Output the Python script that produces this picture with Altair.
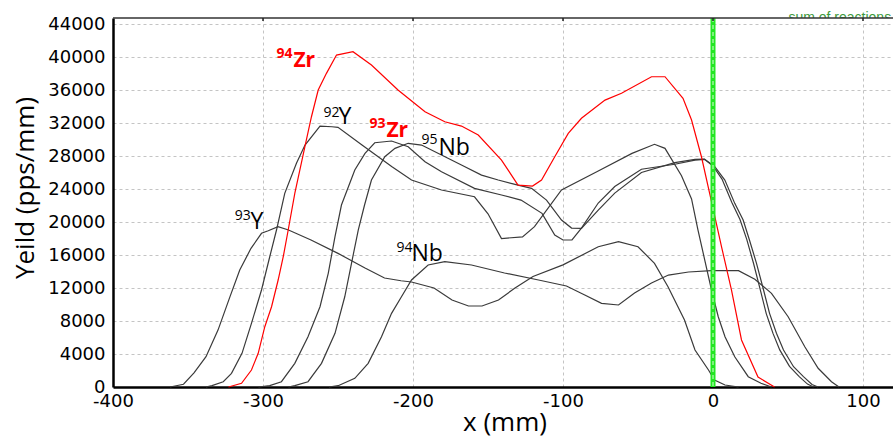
import altair as alt
import pandas as pd

# ---------------- data ----------------
X_TICKS = [-400, -300, -200, -100, 0, 100]
Y_TICKS = list(range(0, 44001, 4000))

X_93Y = [-362, -353, -346, -338, -330, -322, -315.5, -308, -301, -296.5, -290, -283, -268, -250, -232, -219, -208, -201, -186, -174, -163, -154, -143, -132, -120, -100, -76.5, -63, -50, -39, -30, -19, -12, -3, 1, 8, 17]
Y_93Y = [0, 330, 1700, 3670, 6900, 10950, 14180, 16810, 18630, 18940, 19430, 19030, 17820, 16200, 14420, 13210, 12880, 12730, 12000, 10540, 9820, 9820, 10540, 12000, 13400, 14800, 17000, 17610, 17000, 14990, 12160, 8120, 4480, 2060, 850, 240, 0]

X_92Y = [-338, -334, -326.5, -321, -314, -307.7, -301, -295.5, -291, -285.5, -277.7, -272, -262, -254, -250, -234, -214, -201, -181, -159, -150, -141, -127, -119, -101, -76.5, -54, -39, -32, -21, -14.3, -10, -5.5, -1, 3.5, 8, 14.5, 23.5, 32, 39]
Y_92Y = [0, 160, 640, 1660, 4080, 7720, 11760, 15790, 19030, 23480, 27110, 29330, 31630, 31550, 31480, 29330, 26700, 25090, 23880, 23060, 21000, 18000, 18200, 19430, 23880, 26180, 28320, 29420, 28930, 25600, 22800, 19030, 15390, 11760, 8520, 6100, 3670, 1250, 450, 0]

X_94Zr = [-323, -314.3, -307.7, -303.2, -298.8, -294.3, -289.9, -286.5, -283.2, -278.8, -272.1, -267.7, -263.2, -257.7, -251, -240, -227.7, -210, -192, -178.8, -167.7, -156.5, -141, -130, -120.3, -114.3, -105.5, -96.5, -87.7, -72, -61, -41, -32, -20, -14.3, -7.7, -1, 5.7, 12.3, 19, 30, 41]
Y_94Zr = [0, 450, 2060, 4080, 7310, 9730, 12970, 15790, 19030, 23480, 29120, 32760, 36000, 38020, 40240, 40640, 39030, 36000, 33370, 32150, 31630, 30540, 27510, 24480, 24360, 25090, 27910, 30750, 32570, 34780, 35600, 37610, 37610, 34990, 32360, 27910, 22460, 17000, 11760, 5700, 1210, 0]

X_93Zr = [-303, -295.5, -287.7, -278.8, -270, -262, -256.5, -252, -247.7, -238.8, -232, -225.5, -214.3, -203.2, -192, -181, -159, -141, -128, -114, -105.5, -100, -94, -87.7, -76.5, -65.5, -47.7, -25.5, -12, -5.7, 0, 6, 12.5, 18, 22.5, 27, 31.5, 35.5, 40, 44.5, 51, 57.5, 63, 67]
Y_93Zr = [0, 160, 640, 2870, 6100, 9730, 13780, 18220, 22060, 26300, 28320, 29610, 29820, 29120, 27310, 26090, 24080, 23270, 22660, 21050, 18420, 17820, 17820, 19270, 22300, 24300, 26400, 27000, 27500, 27600, 26800, 25200, 22400, 20300, 17900, 15000, 11800, 8900, 6500, 4500, 2500, 1250, 350, 0]

X_95Nb = [-283, -278.8, -270, -261, -252, -245.5, -241, -236.5, -232.3, -227.7, -218.8, -212, -203.2, -194.3, -181, -167.7, -154.3, -143.2, -130, -121, -111, -101, -94.3, -87.7, -76.5, -65.5, -47.7, -25.5, -12, -5.7, 1.2, 7.9, 14.5, 20.1, 24.3, 29, 33.7, 37.7, 42.3, 47, 53.7, 60.3, 66, 70]
Y_95Nb = [0, 160, 640, 2870, 6510, 10940, 14990, 19030, 22060, 25090, 27910, 28930, 29540, 29330, 28120, 26910, 25690, 25090, 24480, 24080, 22660, 20240, 19270, 19230, 21450, 23500, 26000, 27190, 27600, 27630, 26700, 25090, 22260, 20240, 17820, 14990, 11760, 8930, 6510, 4480, 2460, 1250, 300, 0]

X_94Nb = [-256, -249.9, -238.8, -229.9, -221, -214.3, -207.7, -201, -189.9, -178.8, -161, -139, -116.3, -97.7, -85.5, -74.3, -63, -52.3, -41, -29.7, -16.3, -1, 17, 27.9, 39, 50.1, 61.2, 70.1, 79, 84]
Y_94Nb = [0, 160, 1050, 2870, 6100, 8930, 10940, 12970, 14790, 15190, 14790, 13820, 12970, 12240, 11150, 10140, 9940, 11390, 12600, 13570, 13940, 14100, 14100, 13050, 11360, 8520, 4880, 2270, 640, 0]

SERIES = {
    "93Y": (X_93Y, Y_93Y),
    "92Y": (X_92Y, Y_92Y),
    "93Zr": (X_93Zr, Y_93Zr),
    "95Nb": (X_95Nb, Y_95Nb),
    "94Nb": (X_94Nb, Y_94Nb),
    "94Zr": (X_94Zr, Y_94Zr),
}
SERIES_COLORS = ["#3a3a3a", "#3a3a3a", "#3a3a3a", "#3a3a3a", "#3a3a3a", "#ff0000"]
SERIES_WIDTHS = [1.2, 1.2, 1.2, 1.2, 1.2, 1.6]

# labels: mass number (superscript) and element, anchors in data units
LBL_MASS = ["94", "92", "93", "95", "93", "94"]
LBL_ELEM = ["Zr", "Y", "Zr", "Nb", "Y", "Nb"]
LBL_RED = [True, False, True, False, False, False]
LBL_SUP_X = [-291, -259.7, -229, -194.3, -318.9, -211]
LBL_SUP_Y = [39900, 32720, 31390, 29450, 20240, 16360]
LBL_EL_X = [-279.7, -249.7, -217.7, -183, -308.3, -201]
LBL_EL_Y = [38780, 31870, 30300, 28120, 19150, 15270]

X_DOMAIN = [-400, 120]
Y_DOMAIN = [0, 44730]

# ---------------- build tables ----------------
rows = []
for name, (xv, yv) in SERIES.items():
    df = pd.DataFrame({"x": xv, "y": yv})
    df["series"] = name
    df["i"] = range(len(df))
    rows.append(df)
lines_df = pd.concat(rows, ignore_index=True)

sup_df = pd.DataFrame({"text": LBL_MASS, "x": LBL_SUP_X, "y": LBL_SUP_Y, "red": LBL_RED})
el_df = pd.DataFrame({"text": LBL_ELEM, "x": LBL_EL_X, "y": LBL_EL_Y, "red": LBL_RED})

xs = alt.Scale(domain=X_DOMAIN, nice=False, zero=False)
ys = alt.Scale(domain=Y_DOMAIN, nice=False, zero=False)

x_axis = alt.Axis(
    values=X_TICKS, title="x (mm)", labelExpr="datum.value + ''",
    titleFont="Open Sans", titleFontSize=26, titleFontWeight="normal", titleColor="black",
    titleX=391.5, titleY=43, titleBaseline="alphabetic", titleAlign="center",
    labelFont="DejaVu Sans", labelFontSize=18, labelColor="black", labelPadding=5,
    ticks=False, domainColor="black", domainWidth=2.5,
    grid=True, gridDash=[3, 3], gridColor="#c4c4c4", gridWidth=1,
    labelFlush=False, labelOverlap=False,
)
y_axis = alt.Axis(
    values=Y_TICKS, title="Yeild (pps/mm)", format="d",
    titleFont="Open Sans", titleFontSize=26, titleFontWeight="normal", titleColor="black",
    titleX=-80, titleY=169.5, titleBaseline="alphabetic", titleAlign="center", titleAngle=270,
    labelFont="DejaVu Sans", labelFontSize=18, labelColor="black", labelPadding=8,
    ticks=False, domainColor="black", domainWidth=2.5,
    grid=True, gridDash=[3, 3], gridColor="#c4c4c4", gridWidth=1,
    labelFlush=False, labelOverlap=False,
)


def X(field="x:Q"):
    return alt.X(field, scale=xs, axis=x_axis)


def Y(field="y:Q"):
    return alt.Y(field, scale=ys, axis=y_axis)


lines = alt.Chart(lines_df).mark_line(interpolate="linear").encode(
    x=X(), y=Y(),
    color=alt.Color("series:N", scale=alt.Scale(domain=list(SERIES.keys()), range=SERIES_COLORS), legend=None),
    strokeWidth=alt.StrokeWidth("series:N", scale=alt.Scale(domain=list(SERIES.keys()), range=SERIES_WIDTHS), legend=None),
    order="i:Q",
    detail="series:N",
)

zero_df = pd.DataFrame({"x": [0]})
green = alt.Chart(zero_df).mark_rule(color="#22e622", strokeWidth=5).encode(x=X())
green_c = alt.Chart(zero_df).mark_rule(color="#d8ffd8", strokeWidth=1, strokeDash=[4, 3]).encode(x=X())


def label_layer(df, red, size, bold):
    d = df[df["red"] == red]
    return alt.Chart(d).mark_text(
        align="left", baseline="alphabetic", font="Open Sans",
        fontSize=size, fontWeight="bold" if bold else "normal",
        color="#ff0000" if red else "black",
    ).encode(x=X(), y=Y(), text="text:N")


sup_red = label_layer(sup_df, True, 14, True)
el_red = label_layer(el_df, True, 21, True)
sup_blk = label_layer(sup_df, False, 14, False)
el_blk = label_layer(el_df, False, 23, False)

sum_df = pd.DataFrame({"x": [50.3], "y": [44250], "text": ["sum of reactions"]})
sum_text = alt.Chart(sum_df).mark_text(align="left", baseline="alphabetic", font="Liberation Sans",
                                        fontSize=14, color="#3c9a3c").encode(
    x=X(), y=Y(), text="text:N")

mask_df = pd.DataFrame({"x": [47], "x2": [120], "y": [44120], "y2": [44730]})
mask = alt.Chart(mask_df).mark_rect(color="white").encode(
    x=X(), x2="x2:Q", y=Y(), y2="y2:Q")

top_df = pd.DataFrame({"x": [X_DOMAIN[0]], "x2": [X_DOMAIN[1]], "y": [Y_DOMAIN[1]]})
top_line = alt.Chart(top_df).mark_rule(color="#333333", strokeWidth=1.3).encode(
    x=X(), x2="x2:Q", y=Y())

tick_df = pd.DataFrame({"x": X_TICKS[1:]})
top_ticks = alt.Chart(tick_df).mark_rule(color="#222222", strokeWidth=1.5).encode(
    x=X(), y=alt.value(0), y2=alt.value(3))

chart = alt.layer(
    lines, green, green_c, sup_red, el_red, sup_blk, el_blk, sum_text, mask, top_line, top_ticks
).properties(
    width=780, height=369,
    autosize=alt.AutoSizeParams(type="none"),
    padding={"left": 113, "top": 18, "right": 0, "bottom": 51},
    background="white",
).configure_view(stroke=None)

chart.save("out.html", embed_options={"renderer": "svg", "actions": False})
